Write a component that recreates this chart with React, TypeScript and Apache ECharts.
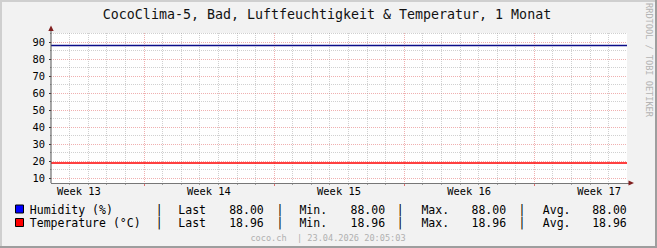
import React, { useEffect, useRef } from "react";
import * as echarts from "echarts";

const DAY = 86400000;
const MONO = "'DejaVu Sans Mono', monospace";

const title = "CocoClima-5, Bad, Luftfeuchtigkeit & Temperatur, 1 Monat";
const rangeStart = Date.UTC(2026, 2, 25);
const rangeEnd = Date.UTC(2026, 3, 25);
const weekStarts = [Date.UTC(2026, 2, 30), Date.UTC(2026, 3, 6), Date.UTC(2026, 3, 13), Date.UTC(2026, 3, 20)];
const weekLabelTimes = [
  Date.UTC(2026, 2, 26, 12),
  Date.UTC(2026, 3, 2, 12),
  Date.UTC(2026, 3, 9, 12),
  Date.UTC(2026, 3, 16, 12),
  Date.UTC(2026, 3, 23, 12),
];
const weekLabels = ["Week 13", "Week 14", "Week 15", "Week 16", "Week 17"];
const yMajorTicks = [10, 20, 30, 40, 50, 60, 70, 80, 90];
const yMinorTicks = [15, 25, 35, 45, 55, 65, 75, 85, 95];

const sampleTimes = [rangeStart, rangeEnd];
const humidity = [88.0, 88.0];
const temperature = [18.96, 18.96];

const seriesNames = ["Humidity (%)", "Temperature (°C)"];
const swatchColors = ["#0000FF", "#FF0000"];
const lineColors = ["#0c0c88", "#FF0000"];
const statLabels = ["Last", "Min.", "Max.", "Avg."];
const humidityStats = [88.0, 88.0, 88.0, 88.0];
const temperatureStats = [18.96, 18.96, 18.96, 18.96];
const footer = "coco.ch  | 23.04.2026 20:05:03";
const watermark = "RRDTOOL / TOBI OETIKER";

// layout
const W = 657;
const H = 248;
const barX = [159.3, 280, 400.3, 522];
const labelX = [178.3, 299.4, 421.4, 542.8];
const valueRightX = [263.8, 385.1, 506.1, 626.8];
const rowY = [209.5, 223];

function buildDayTicks(): number[] {
  const out: number[] = [];
  for (let t = rangeStart + DAY; t < rangeEnd; t += DAY) {
    if (weekStarts.indexOf(t) < 0) out.push(t);
  }
  return out;
}

export default function App() {
  const ref = useRef<HTMLDivElement>(null);

  useEffect(() => {
    document.body.style.margin = "0";
    if (!ref.current) return;
    const chart = echarts.init(ref.current, undefined, { renderer: "svg" });

    const dayTicks = buildDayTicks();
    const minorGrid = { show: true, lineStyle: { color: "rgba(143,143,143,0.42)", width: 1, type: [1, 1] as any } };
    const majorGrid = { show: true, lineStyle: { color: "rgba(222,79,79,0.45)", width: 1, type: [1, 1] as any } };

    const graphics: any[] = [];
    // bevel borders
    graphics.push({ type: "rect", shape: { x: 0, y: 0, width: W, height: 2 }, style: { fill: "#CFCFCF" }, silent: true });
    graphics.push({ type: "rect", shape: { x: 0, y: 0, width: 2, height: H }, style: { fill: "#CFCFCF" }, silent: true });
    graphics.push({ type: "rect", shape: { x: 0, y: H - 2, width: W, height: 2 }, style: { fill: "#9E9E9E" }, silent: true });
    graphics.push({ type: "rect", shape: { x: W - 2, y: 0, width: 2, height: H }, style: { fill: "#9E9E9E" }, silent: true });
    // title
    graphics.push({
      type: "text", x: 327, y: 14.2,
      style: { text: title, font: `13.3px ${MONO}`, fill: "#111", textAlign: "center", textVerticalAlign: "middle" },
    });
    // watermark vertical
    graphics.push({
      type: "text", x: 648.5, y: 60, rotation: -Math.PI / 2,
      style: { text: watermark, font: `8.6px ${MONO}`, fill: "#b4b4b4", textAlign: "center", textVerticalAlign: "middle" },
    });
    // footer
    graphics.push({
      type: "text", x: 328, y: 237.5,
      style: { text: footer, font: `8.6px ${MONO}`, fill: "#b0b0b0", textAlign: "center", textVerticalAlign: "middle" },
    });
    // arrows
    graphics.push({ type: "polygon", shape: { points: [[48.3, 31], [51, 25.5], [53.7, 31]] }, style: { fill: "#801F1F" }, z: 10 });
    graphics.push({ type: "polygon", shape: { points: [[628.5, 180.5], [634, 183], [628.5, 185.5]] }, style: { fill: "#801F1F" }, z: 10 });
    graphics.push({ type: "line", shape: { x1: 51, y1: 31, x2: 51, y2: 183 }, style: { stroke: "#555", lineWidth: 1 }, z: 9 });
    graphics.push({ type: "line", shape: { x1: 51, y1: 183.5, x2: 629, y2: 183.5 }, style: { stroke: "#777", lineWidth: 1 }, z: 9 });

    // legend
    const stats = [humidityStats, temperatureStats];
    seriesNames.forEach((name, r) => {
      const y = rowY[r];
      graphics.push({
        type: "rect", shape: { x: 15.5, y: y - 4.5, width: 8, height: 8 },
        style: { fill: swatchColors[r], stroke: "#000", lineWidth: 1 },
      });
      graphics.push({
        type: "text", x: 29.8, y,
        style: { text: name, font: `11.5px ${MONO}`, fill: "#000", textAlign: "left", textVerticalAlign: "middle" },
      });
      statLabels.forEach((lab, c) => {
        graphics.push({
          type: "text", x: barX[c], y,
          style: { text: "|", font: `11.5px ${MONO}`, fill: "#000", textAlign: "center", textVerticalAlign: "middle" },
        });
        graphics.push({
          type: "text", x: labelX[c], y,
          style: { text: lab, font: `11.5px ${MONO}`, fill: "#000", textAlign: "left", textVerticalAlign: "middle" },
        });
        graphics.push({
          type: "text", x: valueRightX[c], y,
          style: { text: stats[r][c].toFixed(2), font: `11.5px ${MONO}`, fill: "#000", textAlign: "right", textVerticalAlign: "middle" },
        });
      });
    });

    chart.setOption({
      animation: false,
      backgroundColor: "#F2F2F2",
      grid: { left: 51, right: 30, top: 33, bottom: 65, show: true, backgroundColor: "#FFFFFF", borderWidth: 0, containLabel: false },
      xAxis: [
        {
          type: "value", min: rangeStart, max: rangeEnd, position: "bottom",
          axisLine: { show: false, onZero: false },
          axisTick: { show: true, length: 2, customValues: dayTicks, lineStyle: { color: "#a0a0a0" } },
          axisLabel: {
            show: true, customValues: weekLabelTimes, margin: 3,
            fontFamily: MONO, fontSize: 10.4, color: "#000",
            formatter: (v: number) => {
              const i = weekLabelTimes.indexOf(v);
              return i >= 0 ? weekLabels[i] : "";
            },
          },
          splitLine: minorGrid,
        },
        {
          type: "value", min: rangeStart, max: rangeEnd, position: "bottom",
          axisLine: { show: false, onZero: false },
          axisTick: { show: true, length: 3, customValues: weekStarts, lineStyle: { color: "rgba(222,79,79,0.8)" } },
          axisLabel: { show: false },
          splitLine: majorGrid,
        },
      ],
      yAxis: [
        {
          type: "value", min: 7.2, max: 95.4, position: "left",
          axisLine: { show: false, onZero: false },
          axisTick: { show: true, length: 1, customValues: yMinorTicks, lineStyle: { color: "#999" } },
          axisLabel: { show: false },
          splitLine: minorGrid,
        },
        {
          type: "value", min: 7.2, max: 95.4, position: "left",
          axisLine: { show: false, onZero: false },
          axisTick: { show: true, length: 2, customValues: yMajorTicks, lineStyle: { color: "#333" } },
          axisLabel: { show: true, customValues: yMajorTicks, margin: 6, fontFamily: MONO, fontSize: 10.4, color: "#000" },
          splitLine: majorGrid,
        },
      ],
      series: [
        {
          name: seriesNames[0], type: "line", xAxisIndex: 0, yAxisIndex: 0, showSymbol: false, silent: true,
          lineStyle: { color: lineColors[0], width: 1.5 },
          data: sampleTimes.map((t, i) => [t, humidity[i]]),
        },
        {
          name: seriesNames[1], type: "line", xAxisIndex: 0, yAxisIndex: 0, showSymbol: false, silent: true,
          lineStyle: { color: lineColors[1], width: 1.5 },
          data: sampleTimes.map((t, i) => [t, temperature[i]]),
        },
      ],
      graphic: graphics,
    });

    return () => chart.dispose();
  }, []);

  return <div ref={ref} style={{ width: W, height: H }} />;
}
